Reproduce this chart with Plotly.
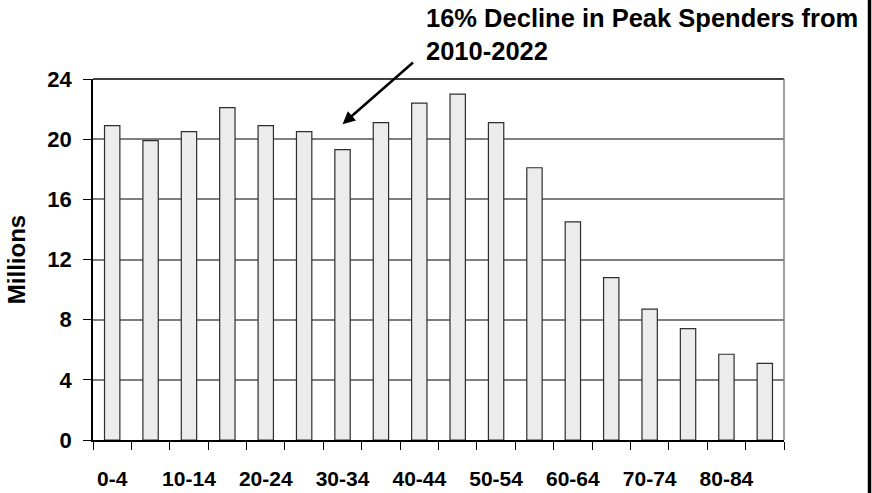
import plotly.graph_objects as go

age_groups = ["0-4", "5-9", "10-14", "15-19", "20-24", "25-29", "30-34", "35-39",
              "40-44", "45-49", "50-54", "55-59", "60-64", "65-69", "70-74", "75-79",
              "80-84", "85-89"]
population_millions = [20.9, 19.9, 20.5, 22.1, 20.9, 20.5, 19.3, 21.1, 22.4, 23.0,
                       21.1, 18.1, 14.5, 10.8, 8.7, 7.4, 5.7, 5.1]
tick_labels = [g if i % 2 == 0 else "" for i, g in enumerate(age_groups)]
y_ticks = [0, 4, 8, 12, 16, 20, 24]
title_text = "16% Decline in Peak Spenders from<br>2010-2022"

FONT = "Arial, Liberation Sans, sans-serif"

fig = go.Figure()
fig.add_trace(go.Bar(
    x=age_groups, y=population_millions,
    marker=dict(color="#ECECEC", line=dict(color="#2e2e2e", width=1.2)),
    width=0.4, hoverinfo="skip",
))

fig.update_layout(
    width=872, height=493,
    margin=dict(l=93, r=88, t=79, b=53),
    paper_bgcolor="white", plot_bgcolor="white",
    showlegend=False,
    font=dict(family=FONT, color="black"),
    xaxis=dict(
        type="category", tickmode="array", tickvals=age_groups, ticktext=tick_labels,
        tickson="boundaries", ticks="outside", ticklen=8, tickcolor="black", tickwidth=1,
        showline=True, linecolor="black", linewidth=1.5, showgrid=False,
        tickfont=dict(size=21, family=FONT, weight="bold"),
        ticklabelstandoff=19, tickangle=0, automargin=False,
    ),
    yaxis=dict(
        range=[0, 24], tickvals=y_ticks, ticks="outside", ticklen=8, tickcolor="black",
        showline=True, linecolor="black", linewidth=1.5,
        showgrid=True, gridcolor="#7f7f7f", gridwidth=1.5, zeroline=False,
        tickfont=dict(size=22, family=FONT, weight="bold"),
        ticklabelstandoff=7, automargin=False,
        title=dict(text="Millions", font=dict(size=24, family=FONT, weight="bold"), standoff=15),
    ),
    shapes=[
        dict(type="line", xref="paper", yref="paper", x0=0, x1=1, y0=1, y1=1,
             line=dict(color="black", width=1.5)),
        dict(type="line", xref="paper", yref="paper", x0=1, x1=1, y0=0, y1=1,
             line=dict(color="#7f7f7f", width=1.5)),
        dict(type="line", xref="paper", yref="paper",
             x0=(869.5 - 93) / 691, x1=(869.5 - 93) / 691, y0=-60 / 361, y1=450 / 361,
             line=dict(color="black", width=3.5)),
    ],
    annotations=[
        dict(xref="paper", yref="paper", x=(424 - 93) / 691, y=(440 - 2) / 361,
             xanchor="left", yanchor="top", align="left", showarrow=False,
             text=title_text, font=dict(size=25.5, family=FONT, weight="bold", color="black")),
        dict(x="30-34", y=21.0, xref="x", yref="y", text="", showarrow=True,
             ax=72, ay=-63, arrowhead=2, arrowsize=1, arrowwidth=2.5, arrowcolor="black"),
    ],
)

fig.write_html("out.html", config={"displayModeBar": False},
               post_script="document.body.style.margin='0';")
